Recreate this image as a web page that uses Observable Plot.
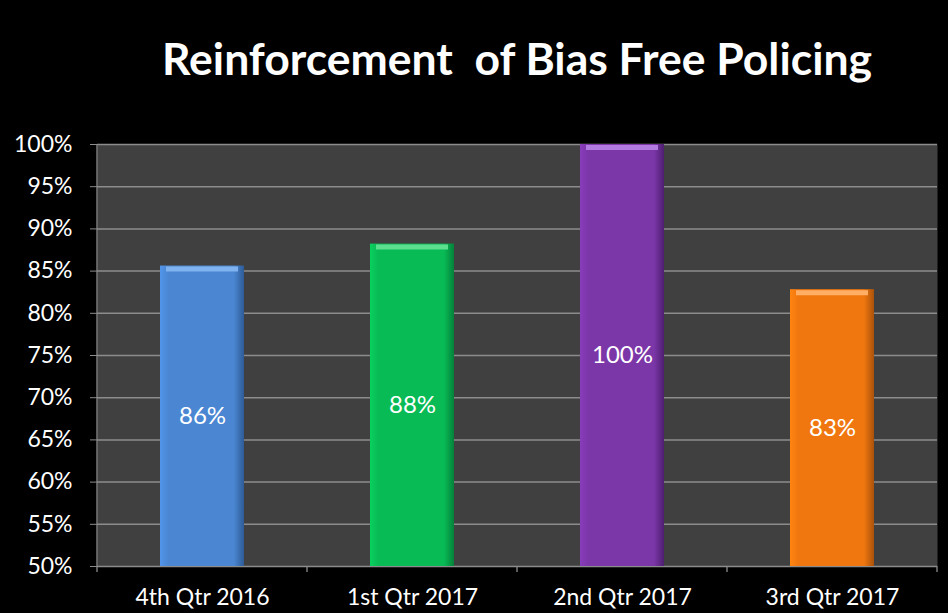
<!DOCTYPE html>
<html>
<head>
<meta charset="utf-8">
<script src="https://cdn.jsdelivr.net/npm/d3@7"></script>
<script src="https://cdn.jsdelivr.net/npm/@observablehq/plot@0.6"></script>
<style>
  html, body { margin: 0; padding: 0; background: #000; }
  #title { height: 120px; box-sizing: border-box; padding: 34px 11px 0 97px; text-align: center;
           color: #fff; font-family: Lato, "Open Sans", sans-serif; font-weight: bold; font-size: 44.5px;
           line-height: 48px; white-space: pre; }
  #chart svg { display: block; }
</style>
</head>
<body>
<div id="title">Reinforcement  of Bias Free Policing</div>
<div id="chart"></div>
<script>
const categories = ["4th Qtr 2016", "1st Qtr 2017", "2nd Qtr 2017", "3rd Qtr 2017"];
const values = [85.6, 88.2, 100, 82.8];
const valueLabels = ["86%", "88%", "100%", "83%"];
const colors = ["#4a86d2", "#08bb55", "#7b36a8", "#f0770f"];
const darkColors = ["#2d5b96", "#05813a", "#4e1f70", "#a9520a"];
const lightColors = ["#7fb2ee", "#5ce08f", "#b27be0", "#ffae66"];
const yTicks = [50, 55, 60, 65, 70, 75, 80, 85, 90, 95, 100];

const data = categories.map((c, i) => ({cat: c, value: values[i], label: valueLabels[i], i}));

const boundaryMark = (index, scales, values, dims) => {
  const x = scales.x, y = scales.y;
  const step = x.step ? x.step() : (dims.width - dims.marginLeft - dims.marginRight) / categories.length;
  const g = d3.create("svg:g").attr("stroke", "#8c8c8c").attr("stroke-width", 1.3);
  const y0 = y(50);
  g.append("line").attr("x1", dims.marginLeft).attr("x2", dims.marginLeft)
    .attr("y1", y(100)).attr("y2", y0);
  const starts = categories.map(c => x(c) + x.bandwidth() / 2 - step / 2);
  starts.push(starts[starts.length - 1] + step);
  for (const s of starts) {
    g.append("line").attr("x1", s).attr("x2", s).attr("y1", y0).attr("y2", y0 + 6);
  }
  return g.node();
};

const chart = Plot.plot({
  width: 948,
  height: 493,
  marginTop: 24,
  marginBottom: 47,
  marginLeft: 97,
  marginRight: 11,
  style: {background: "#000", color: "#fff", fontFamily: "Lato, 'Open Sans', sans-serif"},
  x: {domain: categories, paddingInner: 0.6, paddingOuter: 0.3, label: null},
  y: {domain: [50, 100], label: null},
  marks: [
    Plot.frame({fill: "#404040", stroke: null}),
    Plot.ruleY(yTicks, {stroke: "#8c8c8c", strokeWidth: 1.5}),
    Plot.axisY({ticks: yTicks, tickFormat: d => d + "%", tickSize: 7, tickPadding: 18,
                stroke: "#8c8c8c", fill: "#fff", fontSize: 23, label: null}),
    Plot.axisX({tickSize: 0, tickPadding: 22, fontSize: 23, fill: "#fff", label: null}),
    boundaryMark,
    Plot.barY(data, {x: "cat", y1: 50, y2: "value", fill: d => colors[d.i], className: "bars"}),
    Plot.tickY(data, {x: "cat", y: "value", stroke: d => lightColors[d.i], strokeWidth: 5, dy: 3, insetLeft: 6, insetRight: 6}),
    Plot.text(data, {x: "cat", y: d => (50 + d.value) / 2, text: "label", fill: "#fff", fontSize: 24})
  ]
});

const svg = d3.select(chart);
const defs = svg.insert("defs", ":first-child");
colors.forEach((c, i) => {
  const lg = defs.append("linearGradient").attr("id", "bev" + i).attr("x1", 0).attr("x2", 1).attr("y1", 0).attr("y2", 0);
  lg.append("stop").attr("offset", "0%").attr("stop-color", d3.color(c).brighter(0.3));
  lg.append("stop").attr("offset", "10%").attr("stop-color", c);
  lg.append("stop").attr("offset", "88%").attr("stop-color", c);
  lg.append("stop").attr("offset", "100%").attr("stop-color", darkColors[i]);
});
svg.selectAll("g.bars rect, g[aria-label='bar'] rect").each(function(_, k) {
  d3.select(this).attr("fill", `url(#bev${k})`);
});
document.getElementById("chart").append(chart);
</script>
</body>
</html>
